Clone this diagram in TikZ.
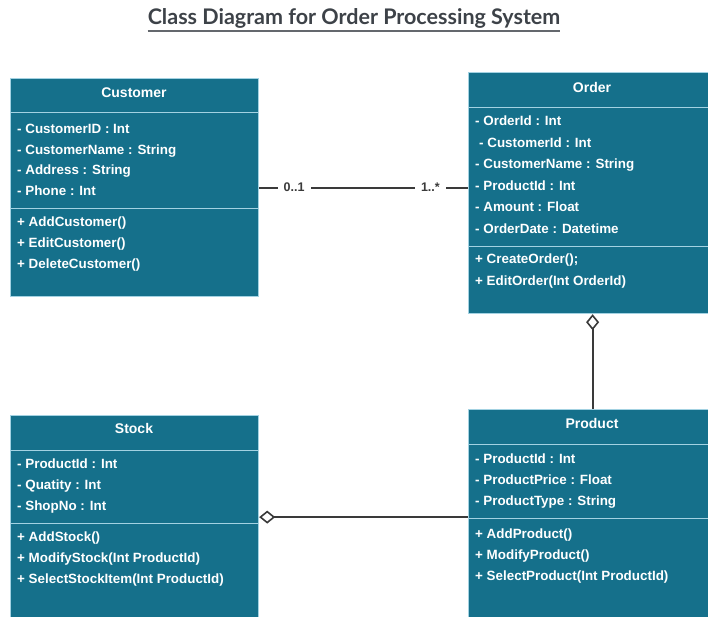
\documentclass[tikz,border=0pt]{standalone}
\usepackage{fontspec}
\setmainfont{Liberation Sans}
\newfontfamily\titlefont{Lato}
\usetikzlibrary{arrows.meta}
\definecolor{umlteal}{HTML}{15708B}
\definecolor{umlsep}{HTML}{A3D2E2}
\definecolor{umlline}{HTML}{3A3A3A}
\definecolor{titlegray}{HTML}{3D4248}
\tikzset{
  classbox/.style={rectangle, anchor=north west, fill=umlteal, draw=umlsep, line width=1.2pt, inner sep=0pt, minimum width=248pt},
  sect/.style={rectangle, anchor=north west, fill=umlteal, draw=umlsep, line width=1.4pt, inner sep=0pt, minimum width=248pt},
  hdrtext/.style={text=white, font=\fontsize{14}{16}\selectfont\bfseries, inner sep=0pt},
  mem/.style={anchor=west, text=white, font=\fontsize{13.4}{16}\selectfont\bfseries, inner sep=0pt, text height=9.6pt, text depth=2.8pt},
  mult/.style={fill=white, text=umlline, font=\fontsize{12.5}{14}\selectfont\bfseries, inner xsep=6pt, inner ysep=2pt},
  assoc/.style={draw=umlline, line width=1.8pt},
  agg/.style={draw=umlline, line width=1.8pt, {Diamond[fill=white, length=16pt, width=13pt, line width=1.6pt]}-},
  titletext/.style={text=titlegray, font=\titlefont\fontsize{21.5}{24}\selectfont\bfseries, inner sep=0pt},
  titleline/.style={draw=titlegray!80, line width=1.6pt}
}
\begin{document}
\begin{tikzpicture}[x=1pt, y=-1pt]
\useasboundingbox (0,0) rectangle (708,616);
\clip (0,0) rectangle (708,616);

% title
\node[titletext] (title) at (354,18) {Class Diagram for Order Processing System};
\draw[titleline] ([yshift=-7pt]title.base west) -- ([yshift=-7pt]title.base east);

% Customer
\node[classbox, minimum height=218pt] (customer) at (10,78) {};
\node[sect, minimum height=34pt] (customerH) at (10,78) {};
\node[sect, minimum height=96pt] (customerA) at (10,112) {};
\node[sect, minimum height=88pt] (customerM) at (10,208) {};
\node[hdrtext] (customerT) at (134,93) {Customer};
\node[mem] (c1) at (17,130) {- CustomerID : Int};
\node[mem] (c2) at (17,151) {- CustomerName : String};
\node[mem] (c3) at (17,171) {- Address : String};
\node[mem] (c4) at (17,192) {- Phone : Int};
\node[mem] (c5) at (17,223) {+ AddCustomer()};
\node[mem] (c6) at (17,244) {+ EditCustomer()};
\node[mem] (c7) at (17,265) {+ DeleteCustomer()};

% Order
\node[classbox, minimum height=241pt] (order) at (468,72) {};
\node[sect, minimum height=35pt] (orderH) at (468,72) {};
\node[sect, minimum height=139pt] (orderA) at (468,107) {};
\node[sect, minimum height=67pt] (orderM) at (468,246) {};
\node[hdrtext] (orderT) at (592,87) {Order};
\node[mem] (o1) at (475,122) {- OrderId : Int};
\node[mem] (o2) at (475,144) {\hspace*{4pt}- CustomerId : Int};
\node[mem] (o3) at (475,165) {- CustomerName : String};
\node[mem] (o4) at (475,187) {- ProductId : Int};
\node[mem] (o5) at (475,208) {- Amount : Float};
\node[mem] (o6) at (475,230) {- OrderDate : Datetime};
\node[mem] (o7) at (475,260) {+ CreateOrder();};
\node[mem] (o8) at (475,282) {+ EditOrder(Int OrderId)};

% Stock
\node[classbox, minimum height=203pt] (stock) at (10,415) {};
\node[sect, minimum height=35pt] (stockH) at (10,415) {};
\node[sect, minimum height=73pt] (stockA) at (10,450) {};
\node[sect, minimum height=95pt] (stockM) at (10,523) {};
\node[hdrtext] (stockT) at (134,428) {Stock};
\node[mem] (s1) at (17,465) {- ProductId : Int};
\node[mem] (s2) at (17,486) {- Quatity : Int};
\node[mem] (s3) at (17,507) {- ShopNo : Int};
\node[mem] (s4) at (17,538) {+ AddStock()};
\node[mem] (s5) at (17,559) {+ ModifyStock(Int ProductId)};
\node[mem] (s6) at (17,580) {+ SelectStockItem(Int ProductId)};

% Product
\node[classbox, minimum height=209pt] (product) at (468,409) {};
\node[sect, minimum height=35pt] (productH) at (468,409) {};
\node[sect, minimum height=74pt] (productA) at (468,444) {};
\node[sect, minimum height=100pt] (productM) at (468,518) {};
\node[hdrtext] (productT) at (592,423) {Product};
\node[mem] (p1) at (475,460) {- ProductId : Int};
\node[mem] (p2) at (475,481) {- ProductPrice : Float};
\node[mem] (p3) at (475,502) {- ProductType : String};
\node[mem] (p4) at (475,535) {+ AddProduct()};
\node[mem] (p5) at (475,556) {+ ModifyProduct()};
\node[mem] (p6) at (475,577) {+ SelectProduct(Int ProductId)};

% connectors
\draw[assoc] (customer.east) -- node[mult, pos=0.167] (m1) {0..1} node[mult, pos=0.82] (m2) {1..*} (customer.east -| order.west);
\draw[agg] (order.south) -- (product.north);
\draw[agg] (stock.east) -- (stock.east -| product.west);
\end{tikzpicture}
\end{document}
